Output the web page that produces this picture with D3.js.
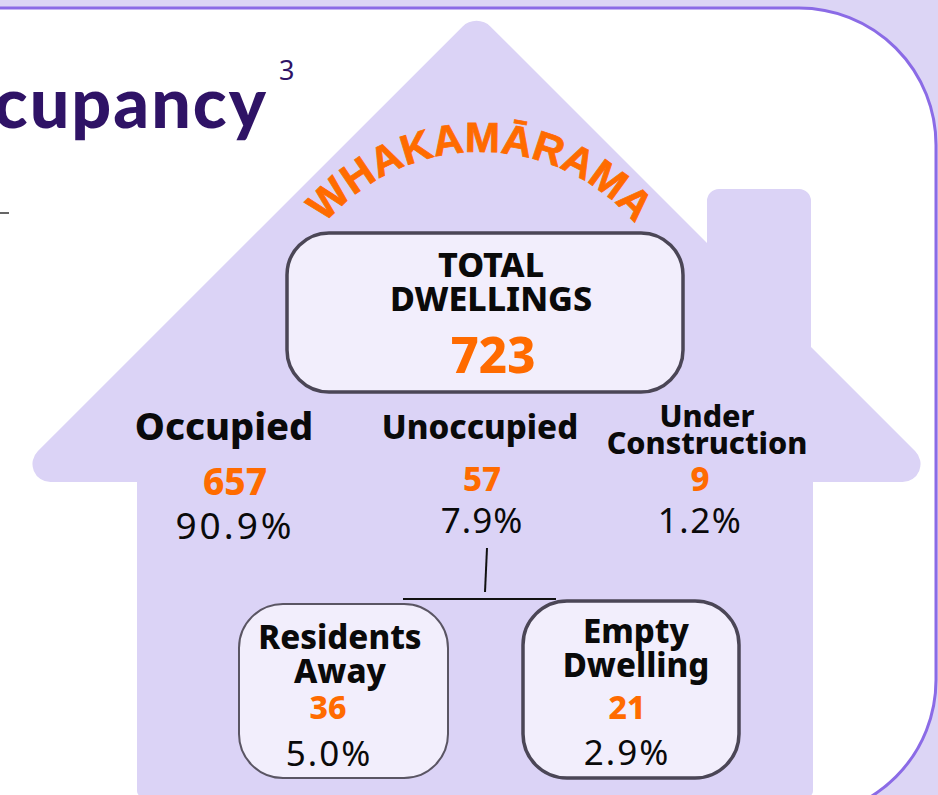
<!DOCTYPE html>
<html>
<head>
<meta charset="utf-8">
<script src="https://cdn.jsdelivr.net/npm/d3@7"></script>
<style>
  html, body { margin: 0; padding: 0; background: #dcd5f5; }
  svg { display: block; }
</style>
</head>
<body>
<svg id="chart" width="938" height="795"></svg>
<script>
// dwelling counts
const total = 723;
const totalLabel = "TOTAL DWELLINGS";
const categories = ["Occupied", "Unoccupied", "Under Construction"];
const counts = [657, 57, 9];
const subCategories = ["Residents Away", "Empty Dwelling"];
const subCounts = [36, 21];
const banner = "WHAKAMĀRAMA";
const title = "Occupancy";
const footnote = "3";

// layout only (no data in here)
const colLayout = [
  {x: 224, size: 38, base: 440, lineH: 0, numX: 235, numBase: 495, numSize: 37, pctX: 235, pctBase: 539, pctSize: 37, ls: 3},
  {x: 480, size: 33, base: 439, lineH: 0, numX: 482, numBase: 491, numSize: 33, pctX: 482, pctBase: 533, pctSize: 35, ls: 1},
  {x: 707, size: 30.5, base: 427, lineH: 27, numX: 700, numBase: 491, numSize: 33, pctX: 700, pctBase: 533, pctSize: 35, ls: 1.5}
];
const subLayout = [
  {box: [239, 604, 209, 174], sw: 2, stroke: "#5a5563", x: 340, base: 649, lineH: 34, size: 33, numX: 328, numBase: 719, pctX: 329, pctBase: 766},
  {box: [523, 601, 216, 177], sw: 3.5, stroke: "#4b4656", x: 636, base: 643, lineH: 34, size: 33, numX: 627, numBase: 719, pctX: 627, pctBase: 765}
];

const lav = "#dbd3f6", boxFill = "#f2eefc", orange = "#ff6b00", ink = "#0a0a0a";
const bold = "'Noto Sans', 'Open Sans', sans-serif";
const pct = d3.format(".1%");

const svg = d3.select("#chart");

// background strip and framed panel
svg.append("rect").attr("width", 938).attr("height", 795).attr("fill", "#dcd5f5");
svg.append("rect")
  .attr("x", -300).attr("y", 8).attr("width", 1236).attr("height", 809)
  .attr("rx", 137)
  .attr("fill", "#fff").attr("stroke", "#8b6be6").attr("stroke-width", 3);

// rounded polygon helper (arc corners)
function roundedPath(pts) {
  let d = "";
  const n = pts.length;
  pts.forEach((p, i) => {
    const a = pts[(i - 1 + n) % n], c = pts[(i + 1) % n];
    const r = p[2] || 0;
    if (!r) { d += (i === 0 ? "M" : "L") + p[0] + "," + p[1]; return; }
    const v1 = [a[0] - p[0], a[1] - p[1]], v2 = [c[0] - p[0], c[1] - p[1]];
    const l1 = Math.hypot(...v1), l2 = Math.hypot(...v2);
    const u1 = [v1[0] / l1, v1[1] / l1], u2 = [v2[0] / l2, v2[1] / l2];
    const ang = Math.acos(u1[0] * u2[0] + u1[1] * u2[1]);
    const t = r / Math.tan(ang / 2);
    const s = [p[0] + u1[0] * t, p[1] + u1[1] * t];
    const e = [p[0] + u2[0] * t, p[1] + u2[1] * t];
    const cross = v1[0] * v2[1] - v1[1] * v2[0];
    d += (i === 0 ? "M" : "L") + s[0] + "," + s[1];
    d += "A" + r + "," + r + " 0 0 " + (cross < 0 ? 1 : 0) + " " + e[0] + "," + e[1];
  });
  return d + "Z";
}

// house outline: x, y, corner radius
const house = [
  [137, 797, 6], [137, 482, 0], [7, 482, 18], [476.5, 12.5, 20],
  [707, 243, 0], [707, 189, 12], [811, 189, 12], [811, 347, 0],
  [946, 482, 18], [813, 482, 0], [813, 797, 6]
];
svg.append("path").attr("d", roundedPath(house)).attr("fill", lav);

// title (cut at left edge)
svg.append("text")
  .attr("x", 268).attr("y", 128).attr("text-anchor", "end")
  .attr("font-family", "Lato, 'Noto Sans', sans-serif").attr("font-weight", 900)
  .attr("font-size", 70).attr("letter-spacing", 2).attr("fill", "#2f1366")
  .text(title);
svg.append("text")
  .attr("x", 279).attr("y", 80)
  .attr("font-family", bold).attr("font-size", 27).attr("fill", "#2f1366")
  .text(footnote);
svg.append("line")
  .attr("x1", 0).attr("x2", 9).attr("y1", 213).attr("y2", 213)
  .attr("stroke", "#333").attr("stroke-width", 1.5);

// curved banner
const cx = 480, cy = 356, R = 204, a0 = Math.PI / 3;
svg.append("defs").append("path")
  .attr("id", "arc")
  .attr("d", `M${cx - R * Math.sin(a0)},${cy - R * Math.cos(a0)} A${R},${R} 0 0 1 ${cx + R * Math.sin(a0)},${cy - R * Math.cos(a0)}`);
svg.append("text")
  .attr("font-family", "'Liberation Sans', Arial, sans-serif").attr("font-weight", 700)
  .attr("font-size", 42).attr("fill", orange)
  .attr("stroke", orange).attr("stroke-width", 0.8)
  .append("textPath")
  .attr("href", "#arc").attr("startOffset", "50%").attr("text-anchor", "middle")
  .text(banner);

// total box
svg.append("rect")
  .attr("x", 287).attr("y", 233).attr("width", 396).attr("height", 159).attr("rx", 42)
  .attr("fill", boxFill).attr("stroke", "#4b4656").attr("stroke-width", 3.5);
svg.append("text")
  .attr("text-anchor", "middle").attr("font-family", bold).attr("font-weight", 800)
  .attr("font-size", 34).attr("fill", ink)
  .selectAll("tspan").data(totalLabel.split(" ")).join("tspan")
  .attr("x", 491).attr("y", (d, i) => 277 + i * 34).text(d => d);
svg.append("text")
  .attr("x", 493).attr("y", 373).attr("text-anchor", "middle")
  .attr("font-family", bold).attr("font-weight", 800).attr("font-size", 49).attr("fill", orange)
  .text(total);

// main categories
const cols = svg.selectAll(".col")
  .data(categories.map((c, i) => ({name: c, count: counts[i], lay: colLayout[i]})))
  .join("g").attr("class", "col");

cols.each(function(d) {
  const g = d3.select(this), L = d.lay;
  const lines = d.name.split(" ");
  g.append("text")
    .attr("text-anchor", "middle").attr("font-family", bold).attr("font-weight", 800)
    .attr("font-size", L.size).attr("fill", ink)
    .selectAll("tspan").data(lines).join("tspan")
    .attr("x", L.x).attr("y", (t, i) => L.base + i * L.lineH).text(t => t);
  g.append("text")
    .attr("x", L.numX).attr("y", L.numBase).attr("text-anchor", "middle")
    .attr("font-family", bold).attr("font-weight", 800).attr("font-size", L.numSize).attr("fill", orange)
    .text(d.count);
  g.append("text")
    .attr("x", L.pctX).attr("y", L.pctBase).attr("text-anchor", "middle")
    .attr("font-family", bold).attr("font-weight", 400).attr("font-size", L.pctSize)
    .attr("letter-spacing", L.ls).attr("fill", ink)
    .text(pct(d.count / total));
});

// connector from Unoccupied to its breakdown
svg.append("line").attr("x1", 487).attr("y1", 548).attr("x2", 485).attr("y2", 592)
  .attr("stroke", "#111").attr("stroke-width", 2);
svg.append("line").attr("x1", 403).attr("y1", 599).attr("x2", 556).attr("y2", 599)
  .attr("stroke", "#111").attr("stroke-width", 2);

// sub boxes
const subs = svg.selectAll(".sub")
  .data(subCategories.map((c, i) => ({name: c, count: subCounts[i], lay: subLayout[i]})))
  .join("g").attr("class", "sub");

subs.each(function(d) {
  const g = d3.select(this), L = d.lay;
  g.append("rect")
    .attr("x", L.box[0]).attr("y", L.box[1]).attr("width", L.box[2]).attr("height", L.box[3])
    .attr("rx", 44).attr("fill", boxFill).attr("stroke", L.stroke).attr("stroke-width", L.sw);
  g.append("text")
    .attr("text-anchor", "middle").attr("font-family", bold).attr("font-weight", 800)
    .attr("font-size", L.size).attr("fill", ink)
    .selectAll("tspan").data(d.name.split(" ")).join("tspan")
    .attr("x", L.x).attr("y", (t, i) => L.base + i * L.lineH).text(t => t);
  g.append("text")
    .attr("x", L.numX).attr("y", L.numBase).attr("text-anchor", "middle")
    .attr("font-family", bold).attr("font-weight", 800).attr("font-size", 32).attr("fill", orange)
    .text(d.count);
  g.append("text")
    .attr("x", L.pctX).attr("y", L.pctBase).attr("text-anchor", "middle")
    .attr("font-family", bold).attr("font-weight", 400).attr("font-size", 35)
    .attr("letter-spacing", 2).attr("fill", ink)
    .text(pct(d.count / total));
});
</script>
</body>
</html>
